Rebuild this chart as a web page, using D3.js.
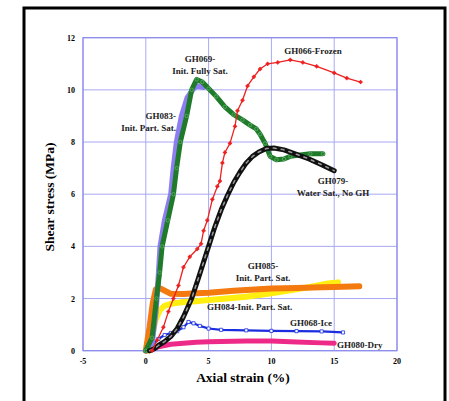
<!DOCTYPE html>
<html>
<head>
<meta charset="utf-8">
<script src="https://cdn.jsdelivr.net/npm/d3@7"></script>
<style>
  html, body { margin: 0; padding: 0; background: #fff; }
  svg { display: block; font-family: "Liberation Serif", "Times New Roman", serif; }
</style>
</head>
<body>
<svg id="chart" width="449" height="401"></svg>
<script>
// ── Data (strain %, shear stress MPa) ─────────────────────────────────────
const xTicks = [-5, 0, 5, 10, 15, 20];
const yTicks = [0, 2, 4, 6, 8, 10, 12];

const gh080Dry = [[0.3,0],[0.7,0.1],[1,0.15],[1.5,0.2],[2,0.25],[3,0.29],[4,0.32],[5,0.34],[6,0.35],[8,0.37],[10,0.37],[12,0.33],[14,0.3],[15,0.29]];
const gh068Ice = [[0,0],[0.5,0.2],[1,0.45],[1.5,0.6],[2,0.68],[2.5,0.75],[3,0.9],[3.4,1.1],[3.8,1.05],[4.3,0.95],[5,0.85],[6,0.8],[8,0.78],[10,0.76],[12,0.75],[14,0.74],[15.7,0.7]];
const gh084 = [[0.2,0],[0.5,0.6],[0.8,1.2],[1.1,1.55],[1.5,1.72],[2,1.8],[3,1.87],[4,1.9],[5,1.94],[6,1.98],[8,2.07],[10,2.2],[12,2.35],[13.5,2.48],[14.5,2.58],[15.3,2.62]];
const gh085 = [[0,0],[0.3,0.9],[0.55,1.8],[0.8,2.35],[1.1,2.4],[1.5,2.3],[2,2.18],[3,2.17],[4,2.2],[5,2.22],[7,2.3],[9,2.36],[10,2.38],[12,2.4],[14,2.43],[15,2.44],[17,2.47]];
const gh083 = [[0,0],[0.5,0.3],[0.8,1.5],[1,2.8],[1.15,4],[1.5,5],[2,6],[2.2,7],[2.45,8],[2.85,9],[3.3,9.7],[3.8,10.05],[4.1,10.15],[4.6,10.1]];
const gh069 = [[0,0],[0.5,0.5],[0.85,2],[1.1,3],[1.3,4],[1.75,5],[2.2,6],[2.45,7],[2.75,8],[3.25,9],[3.65,10],[4.05,10.4],[4.5,10.3],[5,10.05],[5.6,9.75],[6.3,9.35],[7,9.05],[7.7,8.85],[8.3,8.65],[8.8,8.5],[9.1,8.3],[9.5,7.95],[9.9,7.45],[10.4,7.32],[11,7.35],[11.5,7.45],[12.3,7.5],[13.1,7.55],[14.1,7.55]];
const gh079 = [[0.3,0],[0.7,0.08],[1,0.2],[1.5,0.35],[2,0.55],[2.5,0.85],[3,1.3],[3.65,2],[4.2,2.8],[4.6,3.4],[5,4],[5.5,4.75],[6,5.4],[6.5,5.95],[7,6.45],[7.5,6.85],[8,7.2],[8.5,7.45],[9,7.62],[9.6,7.75],[10.2,7.77],[11,7.7],[12,7.53],[13,7.35],[14,7.13],[15,6.9]];
const gh066 = [[0.5,0],[0.9,0.4],[1.4,0.9],[1.8,1.5],[2.2,2],[2.6,2.5],[3,3.2],[3.5,3.6],[4.1,3.9],[4.4,4.1],[4.6,4.6],[4.9,5],[5.3,5.8],[5.7,6.3],[5.9,6.5],[6.1,7.2],[6.3,7.6],[6.7,7.95],[7.1,8.6],[7.3,9.2],[7.7,9.6],[8.1,10.15],[8.6,10.5],[9.1,10.8],[9.7,11],[10.5,11.05],[11.5,11.15],[12.5,11.05],[13.6,10.9],[15,10.65],[16,10.45],[17.1,10.3]];

const ANNOTATIONS = [
  { lines: ['GH069-', 'Init. Fully Sat.'], x: 200, y: 62, anchor: 'middle' },
  { lines: ['GH083-', 'Init. Part. Sat.'], x: 176, y: 119, anchor: 'end' },
  { lines: ['GH066-Frozen'], x: 313, y: 54, anchor: 'middle' },
  { lines: ['GH079-', 'Water Sat., No GH'], x: 333, y: 184, anchor: 'middle' },
  { lines: ['GH085-', 'Init. Part. Sat.'], x: 263, y: 269, anchor: 'middle' },
  { lines: ['GH084-Init. Part. Sat.'], x: 207, y: 310, anchor: 'start' },
  { lines: ['GH068-Ice'], x: 290, y: 326, anchor: 'start' },
  { lines: ['GH080-Dry'], x: 337, y: 348, anchor: 'start' }
];

// ── Setup ─────────────────────────────────────────────────────────────────
const svg = d3.select('#chart');
const GRID = '#a8a8f4';

const x = d3.scaleLinear().domain([-5, 20]).range([83, 397]);
const y = d3.scaleLinear().domain([0, 12]).range([350.7, 37.7]);

// outer frame
svg.append('rect')
  .attr('x', 24).attr('y', 8).attr('width', 421).attr('height', 402)
  .attr('fill', '#fff').attr('stroke', '#000').attr('stroke-width', 3);

// grid
const gridG = svg.append('g');
gridG.selectAll('line.v').data(xTicks).join('line')
  .attr('x1', d => x(d)).attr('x2', d => x(d))
  .attr('y1', y(0)).attr('y2', y(12))
  .attr('stroke', GRID).attr('stroke-width', 1);
gridG.selectAll('line.h').data(yTicks).join('line')
  .attr('x1', x(-5)).attr('x2', x(20))
  .attr('y1', d => y(d)).attr('y2', d => y(d))
  .attr('stroke', GRID).attr('stroke-width', 1);
svg.append('rect')
  .attr('x', x(-5)).attr('y', y(12))
  .attr('width', x(20) - x(-5)).attr('height', y(0) - y(12))
  .attr('fill', 'none').attr('stroke', '#8a8aee').attr('stroke-width', 1.2);

// tick labels
svg.append('g').selectAll('text').data(yTicks).join('text')
  .attr('x', 75).attr('y', d => y(d) + 3)
  .attr('text-anchor', 'end')
  .attr('font-size', 8).attr('font-weight', 'bold')
  .text(d => d);
svg.append('g').selectAll('text').data(xTicks).join('text')
  .attr('x', d => x(d)).attr('y', 364)
  .attr('text-anchor', 'middle')
  .attr('font-size', 8).attr('font-weight', 'bold')
  .text(d => d);

// axis titles
svg.append('text')
  .attr('x', 243).attr('y', 382)
  .attr('text-anchor', 'middle')
  .attr('font-size', 13.5).attr('font-weight', 'bold')
  .text('Axial strain (%)');
svg.append('text')
  .attr('transform', 'translate(54,197) rotate(-90)')
  .attr('text-anchor', 'middle')
  .attr('font-size', 13.5).attr('font-weight', 'bold')
  .text('Shear stress (MPa)');

// ── Curves ────────────────────────────────────────────────────────────────
const line = d3.line().x(d => x(d[0])).y(d => y(d[1]));
const curveG = svg.append('g');

function drawCurve(data, color, width, opts = {}) {
  curveG.append('path')
    .datum(data)
    .attr('d', line)
    .attr('fill', 'none')
    .attr('stroke', color)
    .attr('stroke-width', width)
    .attr('stroke-linejoin', 'round')
    .attr('stroke-linecap', 'round')
    .attr('stroke-dasharray', opts.dash || null);
  if (opts.marker) {
    curveG.append('g').selectAll('path').data(data).join('path')
      .attr('d', d3.symbol().type(opts.marker).size(opts.markerSize || 10))
      .attr('transform', d => `translate(${x(d[0])},${y(d[1])})`)
      .attr('fill', opts.markerFill || 'none')
      .attr('stroke', opts.markerStroke || color)
      .attr('stroke-width', 0.8);
  }
}

drawCurve(gh080Dry, '#ee2a88', 5);
drawCurve(gh068Ice, '#1a2ee0', 2.2, { marker: d3.symbolSquare, markerSize: 10, markerFill: '#fff' });
drawCurve(gh084, '#ffee10', 6);
drawCurve(gh085, '#f47a10', 6);
drawCurve(gh083, '#8c7ef0', 5.5);
drawCurve(gh069, '#1f7a2a', 5, { marker: d3.symbolCircle, markerSize: 9, markerStroke: '#5fb36a' });
drawCurve(gh079, '#111', 5);
drawCurve(gh079, '#9a9a9a', 1.5, { dash: '3 5' });
drawCurve(gh066, '#ee2020', 1.3, { marker: d3.symbolCross, markerSize: 6, markerFill: '#ee2020', markerStroke: '#ee2020' });

// ── Annotations ───────────────────────────────────────────────────────────
const annG = svg.append('g');
ANNOTATIONS.forEach(a => {
  const t = annG.append('text')
    .attr('text-anchor', a.anchor)
    .attr('font-size', 9).attr('font-weight', 'bold')
    .attr('fill', '#222');
  a.lines.forEach((s, i) => {
    t.append('tspan').attr('x', a.x).attr('y', a.y + i * 11.5).text(s);
  });
});
</script>
</body>
</html>
